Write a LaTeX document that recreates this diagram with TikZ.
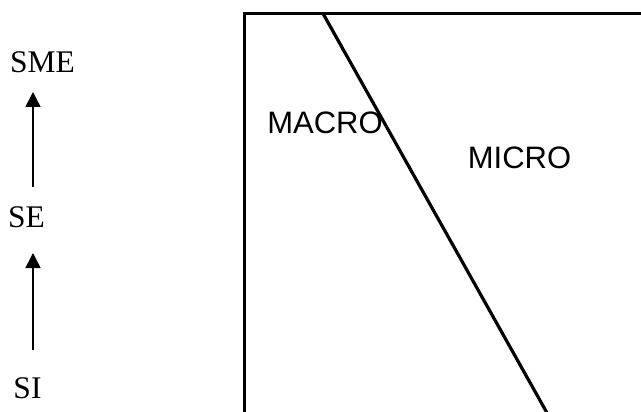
\documentclass[tikz,border=0pt]{standalone}
\usepackage{fontspec}
\setmainfont{Liberation Serif}
\newfontfamily\arialfont{Liberation Sans}
\usetikzlibrary{arrows.meta}
\begin{document}
\begin{tikzpicture}[x=1pt,y=1pt,
  lbl/.style={inner sep=0pt,font=\fontsize{31.5}{36}\selectfont},
  reg/.style={inner sep=0pt,font=\arialfont\fontsize{31}{36}\selectfont},
  arr/.style={line width=1.5pt,-{Triangle[length=15pt,width=15pt]}},
  frame/.style={line width=3.2pt}]
\useasboundingbox (0,0) rectangle (641,-412);
\node[lbl] (SME) at (42.5,-62) {SME};
\node[lbl] (SE) at (26.5,-217) {SE};
\node[lbl] (SI) at (27.5,-388) {SI};
\coordinate (a1s) at (33,-187);
\coordinate (a1e) at (33,-92);
\coordinate (a2s) at (33,-350);
\coordinate (a2e) at (33,-253);
\draw[arr] (a1s) -- (a1e);
\draw[arr] (a2s) -- (a2e);
\coordinate (bl) at (244.5,-420);
\coordinate (tl) at (244.5,-13.5);
\coordinate (tr) at (650,-13.5);
\draw[frame] (bl) -- (tl) -- (tr);
\coordinate (d1) at (323,-13.5);
\coordinate (d2) at (551,-420);
\draw[frame] (d1) -- (d2);
\node[reg] (MACRO) at (325,-123) {MACRO};
\node[reg] (MICRO) at (519.5,-158) {MICRO};
\end{tikzpicture}
\end{document}
